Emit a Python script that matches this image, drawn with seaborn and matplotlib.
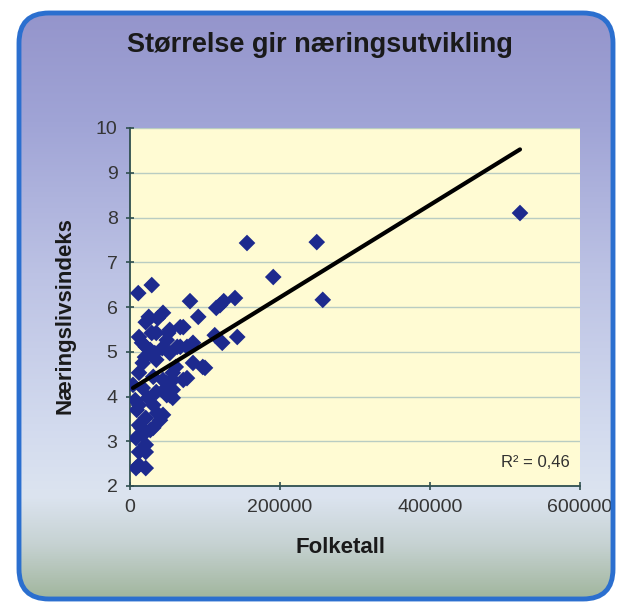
import numpy as np
import pandas as pd
import matplotlib
matplotlib.use("Agg")
import matplotlib.pyplot as plt
import seaborn as sns
from matplotlib.patches import FancyBboxPatch
from matplotlib.colors import LinearSegmentedColormap

# ---------------- data ----------------
folketall = [
    520000, 156000, 249000, 191000, 257000, 11000, 29000, 80000, 120000, 125000,
    140000, 115000, 91000, 113000, 123000, 143000,
    71000, 51000, 49000, 67000, 53000, 84000, 100000, 76000, 57000, 53000,
    36000, 40000, 84000, 76000, 63000, 53000, 67000, 97000, 57000, 71000,
    49000, 57000, 49000,
    25000, 37000, 44000, 21000, 12000, 35000, 21000, 43000, 17000, 35000,
    12000, 31000, 44000, 61000, 27000, 20000, 33000, 16000, 29000,
    17000, 35000, 48000, 57000, 12000, 31000, 44000, 21000, 12000, 31000,
    17000, 8000, 21000, 12000, 21000, 12000, 21000, 8000, 7000, 4000,
    9000, 24000, 27000, 15000,
]
naeringsindeks = [
    8.10, 7.43, 7.45, 6.67, 6.16, 6.31, 6.49, 6.13, 6.04, 6.13,
    6.20, 5.98, 5.78, 5.37, 5.20, 5.33,
    5.55, 5.42, 5.26, 5.11, 4.97, 4.75, 4.64, 4.41, 4.37, 4.03,
    3.63, 3.47, 5.20, 5.11, 5.11, 5.49, 5.55, 4.66, 4.53, 4.37,
    4.30, 4.15, 4.03,
    5.78, 5.75, 5.87, 5.66, 5.33, 5.42, 5.11, 5.08, 4.75, 4.82,
    4.53, 4.44, 4.37, 4.66, 5.04, 4.88, 4.97, 5.20, 5.42,
    4.19, 4.10, 4.19, 3.97, 3.81, 3.81, 3.59, 3.52, 3.36, 3.30,
    3.14, 3.07, 2.92, 2.76, 2.76, 2.47, 2.40, 2.40, 3.92, 4.26,
    3.70, 3.97, 3.25, 3.30,
]
trend_intercept = 4.15
trend_slope = 1.033e-5
r2_text = "R² = 0,46"

x_ticks = [0, 200000, 400000, 600000]
y_ticks = [2, 3, 4, 5, 6, 7, 8, 9, 10]

title = "Størrelse gir næringsutvikling"
x_label = "Folketall"
y_label = "Næringslivsindeks"

df = pd.DataFrame({"Folketall": folketall, "Indeks": naeringsindeks})
trend = pd.DataFrame({"x": [min(folketall), max(folketall)]})
trend["y"] = trend_intercept + trend_slope * trend["x"]

# ---------------- figure ----------------
sns.set_theme(style="white")
plt.rcParams["font.family"] = ["Liberation Sans", "DejaVu Sans"]

W, H = 634, 606
fig = plt.figure(figsize=(W / 100, H / 100), dpi=100)
fig.patch.set_facecolor("white")

BOX = (0.19, 0.07, 5.94, 5.86)
box = FancyBboxPatch(BOX[:2], BOX[2], BOX[3],
                     boxstyle="round,pad=0,rounding_size=0.30",
                     transform=fig.dpi_scale_trans,
                     facecolor="none", edgecolor="#2b6fcf", linewidth=3.5, zorder=5)
fig.add_artist(box)

bg = fig.add_axes([0, 0, 1, 1], zorder=-10)
bg.set_axis_off()
stops = [
    (0.00, "#9393ca"),
    (0.20, "#a0a4d6"),
    (0.45, "#bcc2e4"),
    (0.70, "#d2daee"),
    (0.82, "#dce4f0"),
    (0.90, "#c6d2d2"),
    (1.00, "#9cb296"),
]
cmap = LinearSegmentedColormap.from_list("bggrad", stops)
grad = np.linspace(0, 1, 256).reshape(-1, 1)
im = bg.imshow(grad, cmap=cmap, aspect="auto", extent=[0, 1, 0, 1],
               origin="upper", transform=bg.transAxes)
clip_box = FancyBboxPatch(BOX[:2], BOX[2], BOX[3],
                          boxstyle="round,pad=0,rounding_size=0.30",
                          transform=fig.dpi_scale_trans, facecolor="none")
im.set_clip_path(clip_box)

# plot area
L, R, T, B = 130, 580, 128, 486
ax = fig.add_axes([L / W, 1 - B / H, (R - L) / W, (B - T) / H])
ax.set_facecolor("#fffbd3")

sns.scatterplot(data=df, x="Folketall", y="Indeks", ax=ax, marker="D", s=72,
                color="#1d2a8e", edgecolor="none", linewidth=0, zorder=3)
sns.lineplot(data=trend, x="x", y="y", ax=ax, color="black", linewidth=3, zorder=4)

ax.set_xlim(0, 600000)
ax.set_ylim(2, 10)
ax.set_xticks(x_ticks)
ax.set_yticks(y_ticks)
ax.set_xticklabels([str(v) for v in x_ticks])
ax.set_yticklabels([str(v) for v in y_ticks])
ax.set_xlabel("")
ax.set_ylabel("")
ax.yaxis.grid(True, color="#b9ccc2", linewidth=1.0)
ax.set_axisbelow(True)
for s in ["top", "right"]:
    ax.spines[s].set_visible(False)
for s in ["left", "bottom"]:
    ax.spines[s].set_color("#2f4f4f")
    ax.spines[s].set_linewidth(1.3)
ax.tick_params(axis="both", direction="inout", length=6, width=1.2,
               color="#2f4f4f", labelsize=14, labelcolor="#353535", pad=6,
               left=True, bottom=True)
for lab in ax.get_xticklabels() + ax.get_yticklabels():
    lab.set_clip_path(clip_box)

ax.text(0.90, 0.065, r2_text, transform=ax.transAxes, ha="center", va="center",
        fontsize=12, color="#303030")

fig.text(0.505, 0.926, title, ha="center", va="center", fontsize=19.5,
         fontweight="bold", color="#1a1a1a")
fig.text(0.537, 0.096, x_label, ha="center", va="center", fontsize=16,
         fontweight="bold", color="#1a1a1a")
fig.text(0.103, 0.48, y_label, ha="center", va="center", fontsize=16,
         fontweight="bold", color="#1a1a1a", rotation=90)

fig.savefig("out.png", dpi=100)
